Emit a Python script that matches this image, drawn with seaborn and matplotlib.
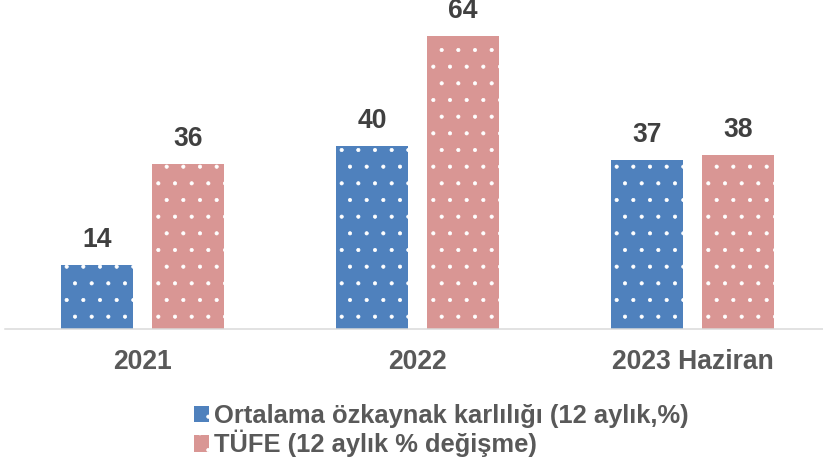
import pandas as pd
import matplotlib
matplotlib.use("Agg")
import matplotlib.pyplot as plt
from matplotlib.patches import Patch
import seaborn as sns

# data
years = ["2021", "2022", "2023 Haziran"]
roe = [14, 40, 37]
cpi = [36, 64, 38]
series_names = ["Ortalama özkaynak karlılığı (12 aylık,%)", "TÜFE (12 aylık % değişme)"]
colors = ["#4F81BD", "#D99694"]

df = pd.DataFrame({
    "yil": years * 2,
    "deger": roe + cpi,
    "seri": [series_names[0]] * 3 + [series_names[1]] * 3,
})

# dpi chosen so the '.' hatch has about the same dot density as the reference
DPI = 100
PT = 72 / DPI  # pixel -> point

sns.set_theme(style="white")
plt.rcParams["font.family"] = ["Liberation Sans", "DejaVu Sans"]
plt.rcParams["font.weight"] = "bold"
plt.rcParams["hatch.color"] = "white"
plt.rcParams["hatch.linewidth"] = 0.5

fig = plt.figure(figsize=(823 / DPI, 467 / DPI), dpi=DPI)
ax = fig.add_axes([5 / 823, 138 / 467, 818 / 823, 320 / 467])

sns.barplot(data=df, x="yil", y="deger", hue="seri", palette=colors,
            saturation=1, width=0.662, gap=0.2, ax=ax, legend=False,
            edgecolor="white", linewidth=0)

for p in ax.patches:
    p.set_hatch(".")

for c in ax.containers:
    ax.bar_label(c, padding=12 * PT, fontsize=26.5 * PT, fontweight="bold",
                 color="#404040")

ax.set_ylim(0, 70)
ax.set_xlim(-0.5, -0.5 + 818 / 275)
ax.set_xlabel("")
ax.set_ylabel("")
ax.set_yticks([])
for s in ["top", "right", "left"]:
    ax.spines[s].set_visible(False)
ax.spines["bottom"].set_color("#D9D9D9")
ax.spines["bottom"].set_linewidth(1.5 * PT)
ax.tick_params(axis="x", length=0, pad=20 * PT, labelsize=26.5 * PT,
               labelcolor="#595959")
for t in ax.get_xticklabels():
    t.set_fontweight("bold")

handles = [Patch(facecolor=colors[i], edgecolor="white", linewidth=0, hatch=".")
           for i in range(2)]
fig.legend(handles, series_names, loc="upper left",
           bbox_to_anchor=(194 / 823, 1 - 404 / 467), frameon=False,
           borderpad=0, borderaxespad=0, handlelength=0.6, handleheight=0.6,
           handletextpad=0.2, labelspacing=0.08,
           prop={"size": 25.5 * PT, "weight": "bold"}, labelcolor="#595959")

fig.savefig("out.png", dpi=DPI)
